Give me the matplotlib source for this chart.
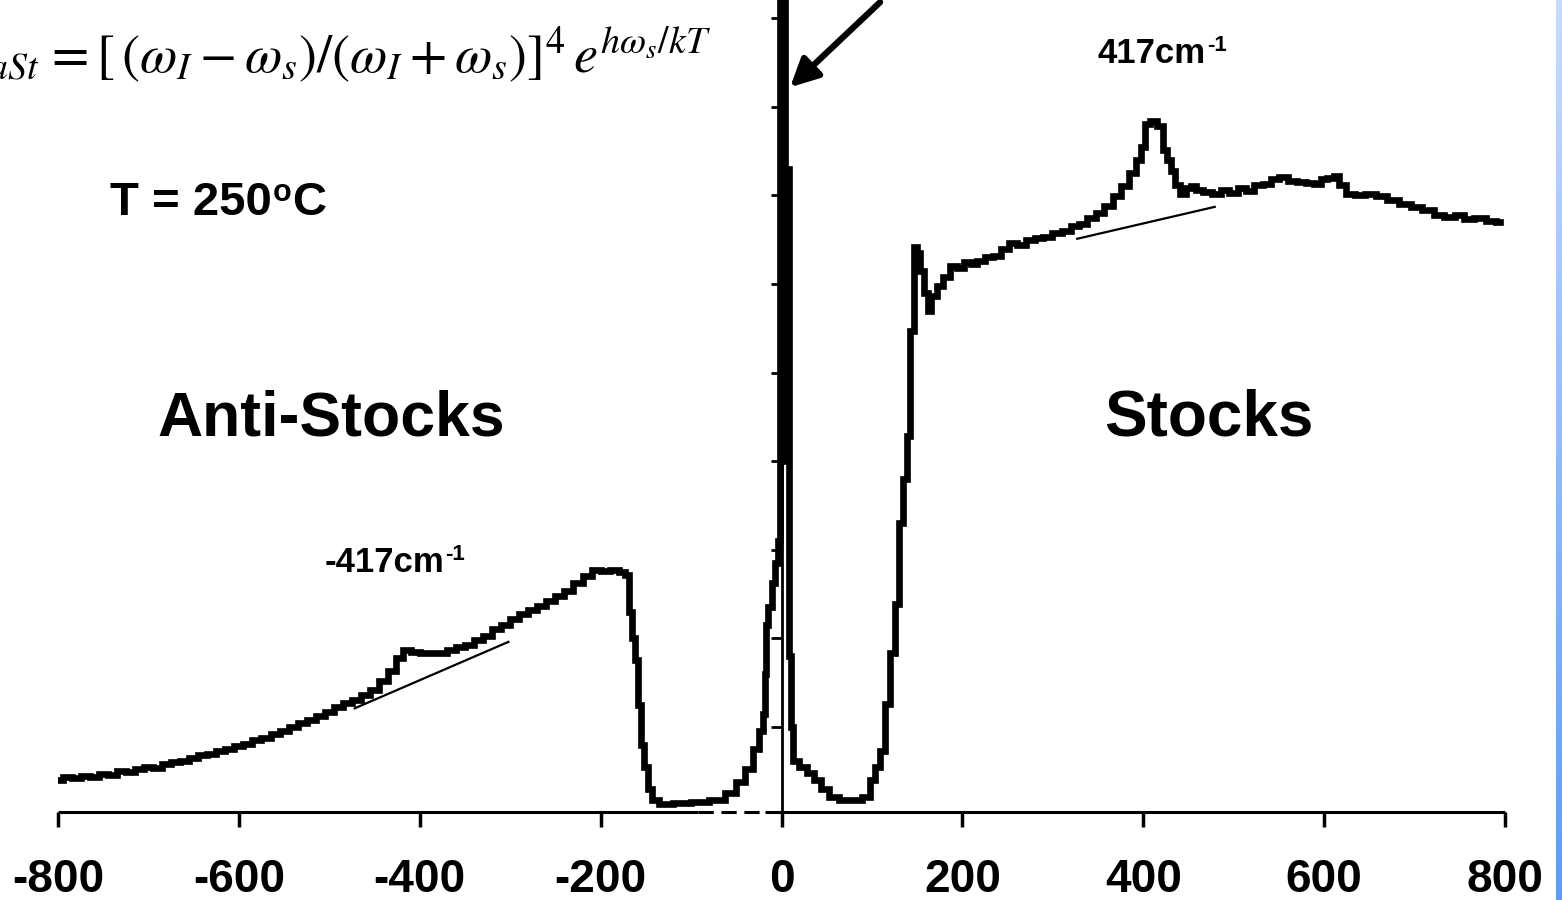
import numpy as np
import matplotlib
matplotlib.use("Agg")
import matplotlib.pyplot as plt
from matplotlib.colors import LinearSegmentedColormap

W, H = 1562, 900

# ---------------- data (Raman shift in cm^-1, intensity in arbitrary units) -------------
shift = [-800, -790, -780, -770, -760, -750, -740, -730, -720, -710, -700, -690, -680, -670,
         -660, -650, -640, -630, -620, -610, -600, -590, -580, -570, -560, -550, -540, -530,
         -520, -510, -500, -490, -480, -470, -460, -450, -440, -430, -422, -415, -405, -395,
         -385, -375, -365, -355, -345, -335, -325, -315, -305, -295, -285, -275, -265, -255,
         -245, -235, -225, -215, -205, -195, -185, -175, -170, -168, -163, -160, -157, -153,
         -150, -146, -140, -130, -110, -90, -70, -55, -45, -35, -27, -22, -19, -18, -17, -13,
         -9, -5, -3, -1, 1, 3, 5, 7, 9, 11, 15, 24, 32, 39, 48, 57, 70, 83, 94, 101, 106, 111,
         117, 122, 128, 131, 137, 140, 145, 148, 152, 155, 160, 163, 168, 175, 182, 190, 198,
         206, 213, 220, 230, 238, 247, 256, 265, 275, 285, 294, 305, 315, 325, 333, 343, 352,
         362, 371, 380, 389, 396, 400, 404, 411, 419, 424, 428, 433, 438, 444, 450, 455, 462,
         470, 482, 490, 500, 510, 518, 527, 537, 545, 555, 565, 575, 585, 592, 600, 607, 614,
         620, 629, 640, 650, 665, 675, 690, 702, 715, 727, 739, 750, 760, 772, 785, 794]
intensity = [0.40, 0.43, 0.42, 0.45, 0.44, 0.47, 0.46, 0.50, 0.49, 0.52, 0.55, 0.54, 0.58, 0.60,
             0.62, 0.65, 0.68, 0.70, 0.73, 0.75, 0.78, 0.81, 0.85, 0.87, 0.92, 0.95, 1.00, 1.05,
             1.08, 1.12, 1.17, 1.22, 1.27, 1.30, 1.36, 1.42, 1.52, 1.63, 1.78, 1.87, 1.85, 1.83,
             1.84, 1.83, 1.87, 1.90, 1.93, 1.98, 2.03, 2.10, 2.15, 2.22, 2.27, 2.32, 2.37, 2.42,
             2.48, 2.54, 2.63, 2.70, 2.77, 2.76, 2.77, 2.75, 2.72, 2.30, 2.00, 1.75, 1.25, 0.80,
             0.55, 0.30, 0.18, 0.13, 0.14, 0.15, 0.18, 0.25, 0.38, 0.53, 0.75, 0.95, 1.15, 1.60,
             2.15, 2.35, 2.62, 2.85, 3.10, 9.60, 4.00, 9.60, 7.30, 7.30, 1.80, 1.00, 0.62, 0.55,
             0.48, 0.40, 0.30, 0.21, 0.17, 0.17, 0.21, 0.40, 0.55, 0.73, 1.26, 1.83, 2.39, 3.30,
             3.80, 4.28, 5.47, 6.42, 6.35, 6.15, 5.90, 5.70, 5.86, 5.98, 6.08, 6.20, 6.18, 6.25,
             6.22, 6.26, 6.30, 6.31, 6.40, 6.46, 6.44, 6.50, 6.52, 6.53, 6.58, 6.60, 6.65, 6.68,
             6.74, 6.80, 6.88, 6.99, 7.10, 7.25, 7.40, 7.55, 7.81, 7.84, 7.78, 7.51, 7.40, 7.28,
             7.12, 7.02, 7.08, 7.10, 7.06, 7.04, 7.02, 7.06, 7.03, 7.08, 7.05, 7.12, 7.13, 7.18,
             7.21, 7.16, 7.15, 7.14, 7.13, 7.18, 7.20, 7.22, 7.12, 7.02, 7.00, 7.01, 6.99, 6.95,
             6.90, 6.87, 6.83, 6.78, 6.76, 6.78, 6.73, 6.74, 6.71, 6.70]

# background guide lines under the 417 cm^-1 bands
base_as_x = [-472, -302]
base_as_y = [1.21, 1.96]
base_st_x = [327, 479]
base_st_y = [6.51, 6.87]

xticks = [-800, -600, -400, -200, 0, 200, 400, 600, 800]
yticks = [1, 2, 3, 4, 5, 6, 7, 8, 9]

# ---------------- figure ----------------
fig = plt.figure(figsize=(W / 100, H / 100), dpi=100)
fig.patch.set_facecolor("white")

def fx(px):
    return px / W

def fy(py):
    return 1 - py / H

ax = fig.add_axes([fx(58), fy(812), fx(1505) - fx(58), fy(0) - fy(812)])
ax.set_xlim(-800, 800)
ax.set_ylim(0.04, 9.205)

ax.plot(shift, intensity, color="black", lw=4.8, solid_joinstyle="miter",
        drawstyle="steps-mid", zorder=3)
ax.plot(base_as_x, base_as_y, color="black", lw=1.6, zorder=3)
ax.plot(base_st_x, base_st_y, color="black", lw=1.6, zorder=3)

# spines
for s in ["top", "right", "bottom"]:
    ax.spines[s].set_visible(False)
ax.spines["left"].set_position(("data", 0))
ax.spines["left"].set_linewidth(2.0)
ax.spines["left"].set_zorder(4)

# bottom axis drawn with a short dashed stretch as in the original
ax.plot([-800, -92], [0.04, 0.04], color="black", lw=2.2, clip_on=False, zorder=2, solid_capstyle="butt")
ax.plot([-92, -18], [0.04, 0.04], color="black", lw=2.2, clip_on=False, zorder=2, ls=(0, (5, 2.5)))
ax.plot([-18, 800], [0.04, 0.04], color="black", lw=2.2, clip_on=False, zorder=2, solid_capstyle="butt")

ax.set_xticks(xticks)
ax.set_xticklabels([str(v) for v in xticks], fontsize=33, fontweight="bold",
                   family="Liberation Sans")
ax.tick_params(axis="x", direction="out", length=11, width=2.5, pad=22)
ax.set_yticks(yticks)
ax.set_yticklabels([])
ax.tick_params(axis="y", direction="out", length=8, width=2.0)

# arrow pointing to the laser line
ax.annotate("", xy=(9.5, 8.22), xytext=(109, 9.18),
            arrowprops=dict(arrowstyle="-|>", lw=4.5, color="black", mutation_scale=42,
                            shrinkA=0, shrinkB=0), annotation_clip=False)

# ---------------- texts ----------------
sans = "Liberation Sans"
renderer = fig.canvas.get_renderer()

def run_text(px, py, parts):
    """parts: list of (text, size, rise_px); drawn one after another on one baseline"""
    x = fx(px)
    for txt, size, rise in parts:
        t = fig.text(x, fy(py) + rise / H, txt, fontsize=size, fontweight="bold",
                     family=sans, ha="left", va="baseline")
        bb = t.get_window_extent(renderer)
        x = bb.x1 / W + 0.5 / W

run_text(110, 215, [("T = 250", 34, 0), ("o", 22, 14), ("C", 34, 0)])
run_text(157, 435, [("Anti-Stocks", 45, 0)])
run_text(1104, 435, [("Stocks", 46, 0)])
run_text(1098, 63, [("417cm", 25, 0), ("-1", 16, 12)])
run_text(325, 572, [("-417cm", 25, 0), ("-1", 16, 12)])

# formula (left part runs off the slide edge)
fig.text(fx(40), fy(72), r"$I_{aSt}$", fontsize=39, math_fontfamily="stix",
         ha="right", va="baseline")
fig.text(fx(44), fy(72),
         r"$=[\,(\omega_I-\omega_s)/(\omega_I+\omega_s)]^4\,e^{h\omega_s/kT}$",
         fontsize=39, math_fontfamily="stix", ha="left", va="baseline")

# blue slide border at the right edge
bax = fig.add_axes([fx(1556), 0, fx(1562) - fx(1556), 1])
grad = np.linspace(0, 1, 256).reshape(-1, 1)
cm = LinearSegmentedColormap.from_list("edge", ["#5c9bff", "#c4dcff"])
bax.imshow(grad, aspect="auto", cmap=cm, origin="lower", extent=[0, 1, 0, 1])
bax.axis("off")

fig.savefig("out.png", dpi=100)
